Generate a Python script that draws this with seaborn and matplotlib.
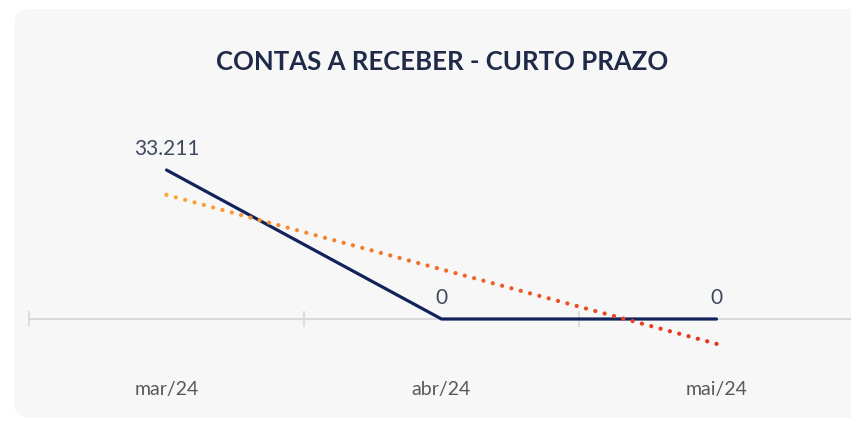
import numpy as np
import pandas as pd
import matplotlib.pyplot as plt
import seaborn as sns
from matplotlib.patches import FancyBboxPatch
from matplotlib.colors import LinearSegmentedColormap
from matplotlib.transforms import IdentityTransform

# Dados do gráfico
meses = ["mar/24", "abr/24", "mai/24"]
valores = [33211, 0, 0]
rotulos = ["33.211", "0", "0"]

sns.set_style("white")
plt.rcParams["font.family"] = ["Lato", "DejaVu Sans"]

df = pd.DataFrame({"pos": range(len(meses)), "mes": meses, "valor": valores})

fig = plt.figure(figsize=(8.51, 4.22), dpi=100)
fig.patch.set_facecolor("white")

# Painel cinza de fundo com cantos arredondados
painel = FancyBboxPatch((14, 4), 870, 409, boxstyle="round,pad=0,rounding_size=16",
                        transform=IdentityTransform(), fc="#f7f7f7", ec="none", zorder=0)
fig.add_artist(painel)

ax = fig.add_axes([29 / 851, 62 / 422, 825 / 851, 260 / 422])
ax.patch.set_alpha(0)

# Linha principal
sns.lineplot(data=df, x="pos", y="valor", color="#12235c", linewidth=2.3,
             solid_capstyle="round", ax=ax, zorder=4)

# Linha de tendência (linear) pontilhada com gradiente
coef = np.polyfit(df.pos, df.valor, 1)
xs = np.linspace(df.pos.min(), df.pos.max(), 60)
ys = np.polyval(coef, xs)
cmap = LinearSegmentedColormap.from_list("tend", ["#f8a83a", "#ef6a28", "#e6311c"])
ax.scatter(xs, ys, c=xs, cmap=cmap, s=9, linewidths=0, zorder=5)

# Rótulos de dados
for x, y, t in zip(df.pos, df.valor, rotulos):
    ax.annotate(t, (x, y), xytext=(0, 8), textcoords="offset points",
                ha="center", va="bottom", fontsize=15, color="#3f4a5e")

ax.set_xlim(-0.5, len(meses) - 0.5)
ax.set_ylim(-9139, 48814)

ax.set_xticks(df.pos, meses)
ax.set_xticks(np.arange(-0.5, len(meses)), minor=True)
ax.tick_params(axis="x", which="major", bottom=True, length=0, pad=45, labelsize=14,
               labelcolor="#595959")
ax.tick_params(axis="x", which="minor", bottom=True, length=12, width=1.2, color="#d9d9d9",
               direction="inout")
ax.set_yticks([])
ax.set_xlabel("")
ax.set_ylabel("")

for lado in ["left", "right", "top"]:
    ax.spines[lado].set_visible(False)
ax.spines["bottom"].set_position(("data", 0))
ax.spines["bottom"].set_color("#d9d9d9")
ax.spines["bottom"].set_linewidth(1.5)
ax.spines["bottom"].set_zorder(1)

fig.text(442 / 851, 1 - 62 / 422, "CONTAS A RECEBER - CURTO PRAZO", ha="center", va="center",
         fontsize=18.5, fontweight="bold", color="#1f2a48")

fig.savefig("out.png", dpi=100, facecolor=fig.get_facecolor())
